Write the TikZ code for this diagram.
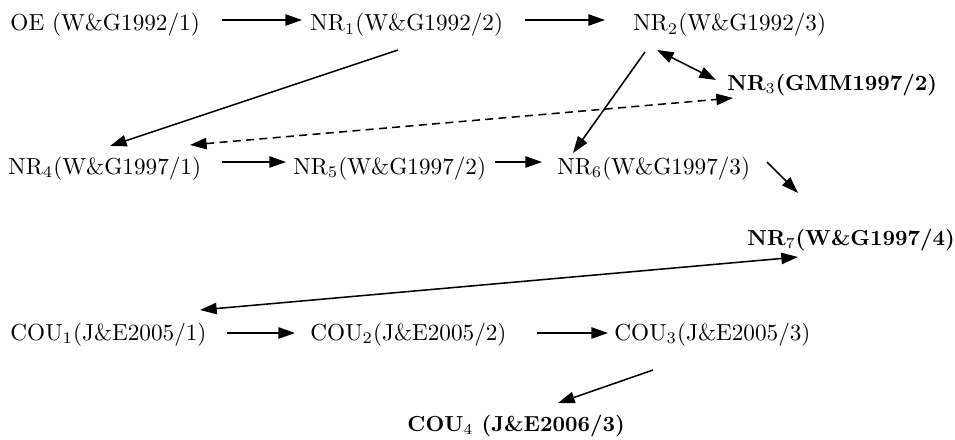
\documentclass[tikz,border=0pt]{standalone}
\usetikzlibrary{arrows.meta}
\begin{document}
\begin{tikzpicture}[x=0.75pt,y=-0.75pt,
  lbl/.style={anchor=base west,inner sep=0pt,scale=1.74,font=\fontsize{10}{12}\selectfont},
  blbl/.style={anchor=base west,inner sep=0pt,scale=1.63,font=\fontsize{10}{12}\selectfont\bfseries},
  arr/.style={-{Triangle[length=12.5pt,width=8.5pt]},line width=1.15pt},
  darr/.style={{Triangle[length=12.5pt,width=8.5pt]}-{Triangle[length=12.5pt,width=8.5pt]},line width=1.15pt},
  dsh/.style={darr,dash pattern=on 6pt off 4pt}]
\useasboundingbox (0,0) rectangle (955,439);
\node[lbl]  (oe)   at (10,31)   {OE (W\&G1992/1)};
\node[lbl]  (nr1)  at (310,31)  {NR\textsubscript{1}(W\&G1992/2)};
\node[lbl]  (nr2)  at (633,31)  {NR\textsubscript{2}(W\&G1992/3)};
\node[blbl] (nr3)  at (727,90)  {NR\textsubscript{\mdseries 3}(GMM1997/2)};
\node[lbl]  (nr4)  at (8,174)   {NR\textsubscript{4}(W\&G1997/1)};
\node[lbl]  (nr5)  at (293,174) {NR\textsubscript{5}(W\&G1997/2)};
\node[lbl]  (nr6)  at (557,174) {NR\textsubscript{6}(W\&G1997/3)};
\node[blbl] (nr7)  at (747,245) {NR\textsubscript{\mdseries 7}(W\&G1997/4)};
\node[lbl]  (cou1) at (10,340)  {COU\textsubscript{1}(J\&E2005/1)};
\node[lbl]  (cou2) at (310,340) {COU\textsubscript{2}(J\&E2005/2)};
\node[lbl]  (cou3) at (614,340) {COU\textsubscript{3}(J\&E2005/3)};
\node[blbl] (cou4) at (407,431) {COU\textsubscript{\mdseries 4} (J\&E2006/3)};

\draw[arr] ([shift={(212,-11)}]oe.base west) -- ([shift={(-8,-11)}]nr1.base west);
\draw[arr] ([shift={(215,-11)}]nr1.base west) -- ([shift={(-28,-11)}]nr2.base west);
\draw[arr] ([shift={(88,19)}]nr1.base west) -- ([shift={(102,-28)}]nr4.base west);
\draw[arr] ([shift={(12,21)}]nr2.base west) -- ([shift={(16,-21)}]nr6.base west);
\draw[darr] ([shift={(24,19)}]nr2.base west) -- ([shift={(-11,-10)}]nr3.base west);
\draw[dsh] ([shift={(182,-29)}]nr4.base west) -- ([shift={(6,8)}]nr3.base west);
\draw[arr] ([shift={(214,-12)}]nr4.base west) -- ([shift={(-7,-12)}]nr5.base west);
\draw[arr] ([shift={(202,-12)}]nr5.base west) -- ([shift={(-15,-12)}]nr6.base west);
\draw[arr] ([shift={(210,-12)}]nr6.base west) -- ([shift={(51,-52)}]nr7.base west);
\draw[darr] ([shift={(51,12)}]nr7.base west) -- ([shift={(190,-30)}]cou1.base west);
\draw[arr] ([shift={(217,-7)}]cou1.base west) -- ([shift={(-15,-7)}]cou2.base west);
\draw[arr] ([shift={(227,-7)}]cou2.base west) -- ([shift={(-6,-7)}]cou3.base west);
\draw[arr] ([shift={(39,30)}]cou3.base west) -- ([shift={(151,-28)}]cou4.base west);
\end{tikzpicture}
\end{document}
